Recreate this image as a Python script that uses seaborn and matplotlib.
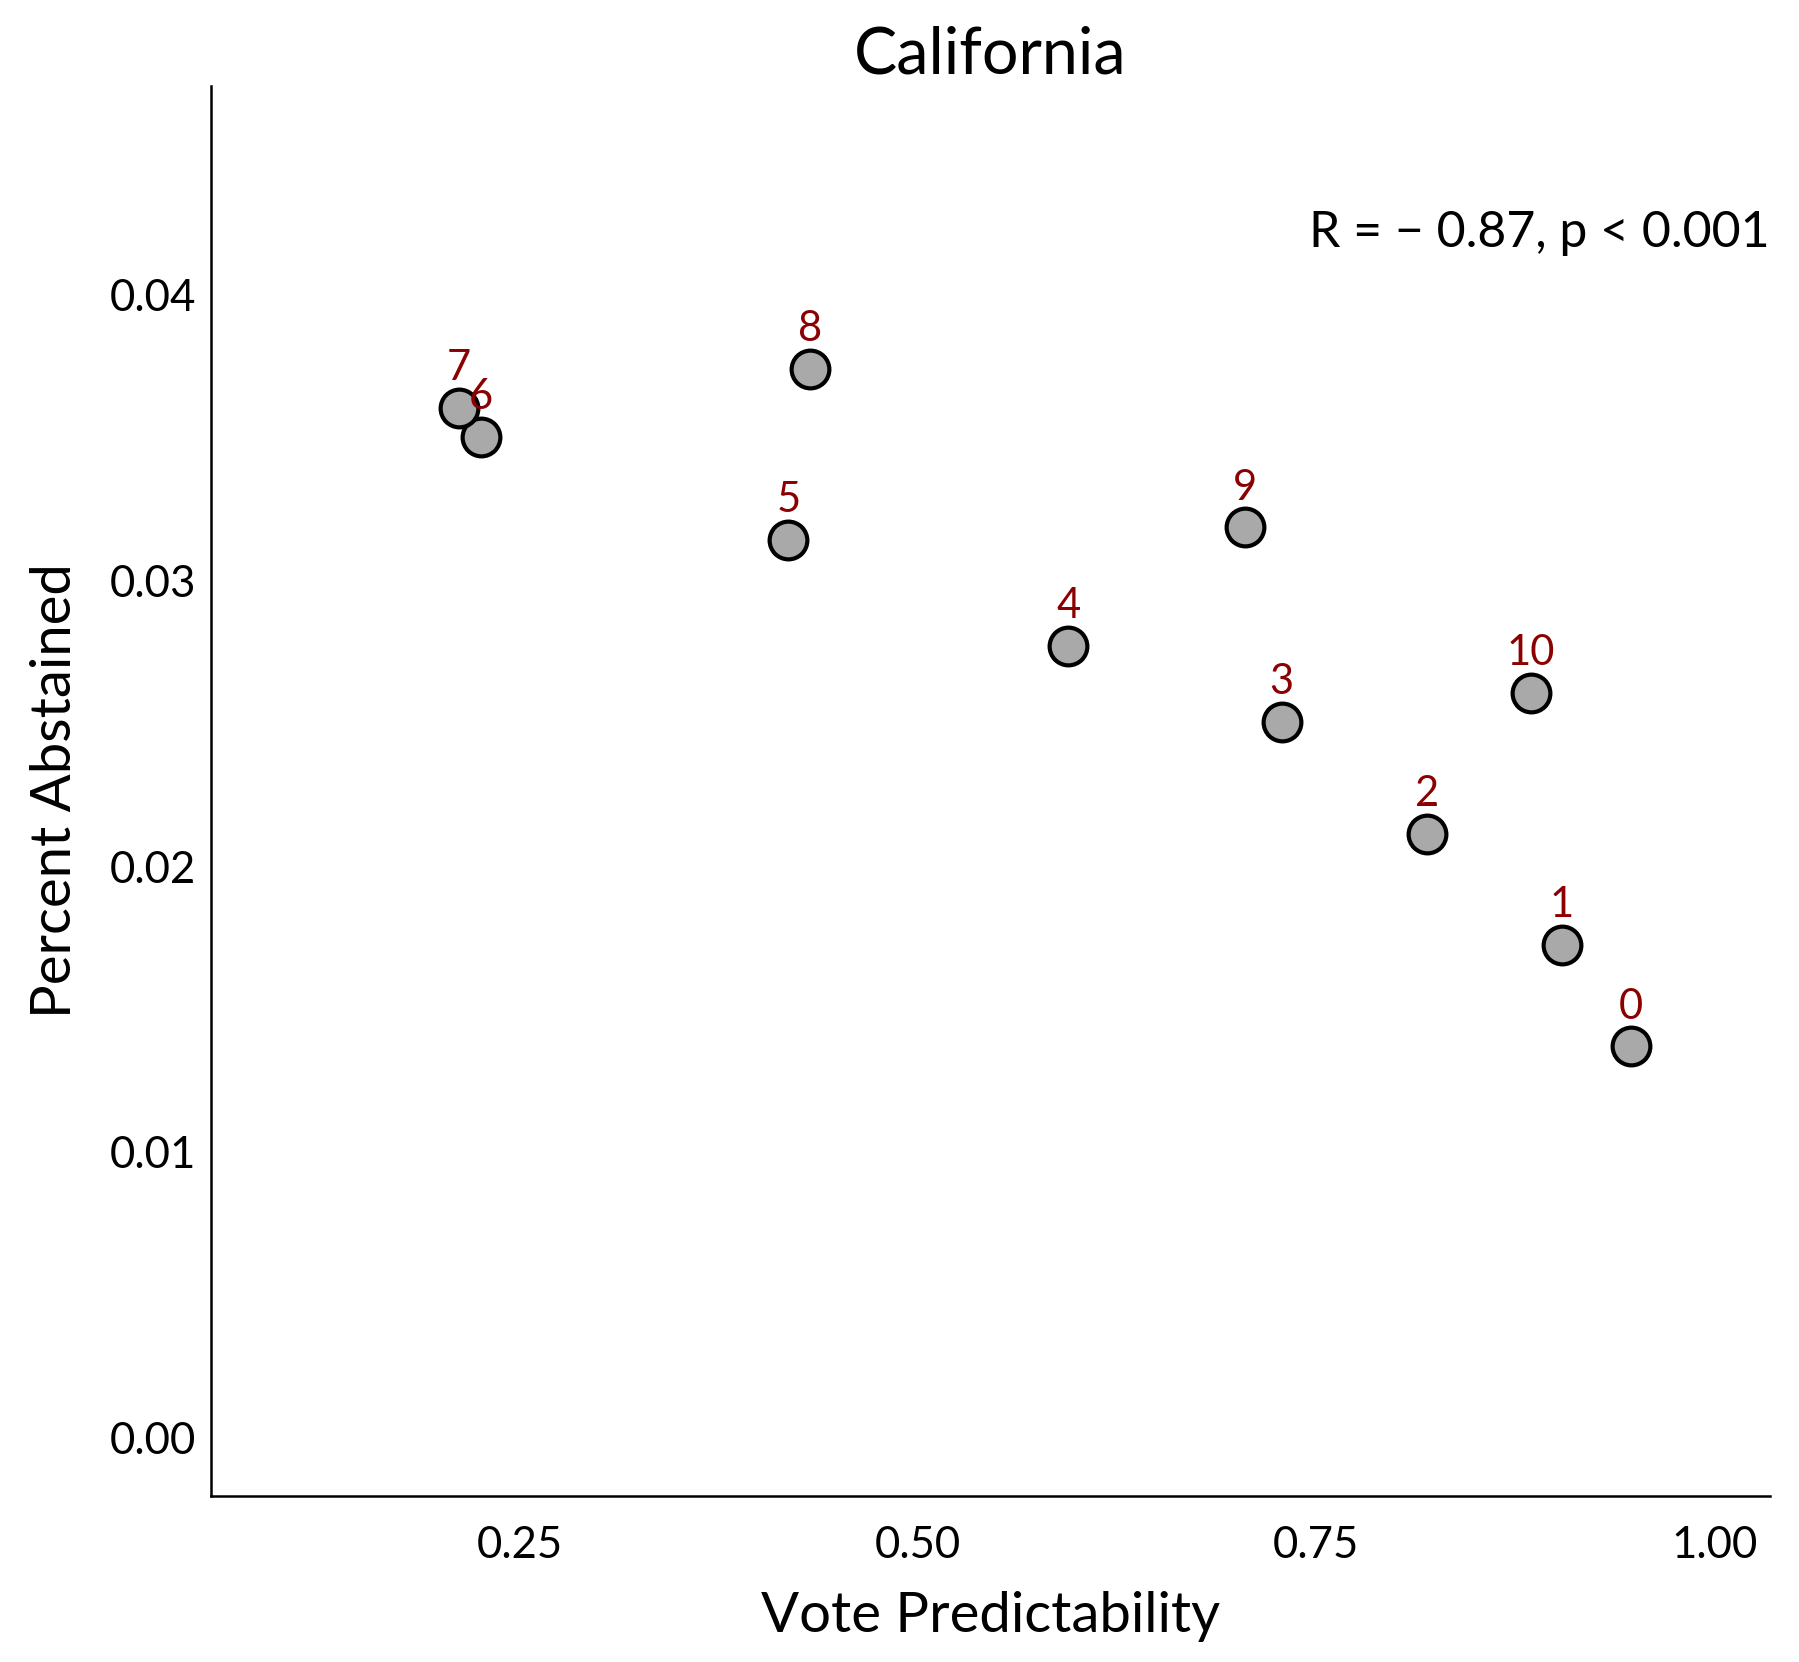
import matplotlib
matplotlib.use("Agg")
import matplotlib.pyplot as plt
import seaborn as sns
import pandas as pd

# Values
district = [0, 1, 2, 3, 4, 5, 6, 7, 8, 9, 10]
vote_predictability = [0.9474, 0.9042, 0.8199, 0.7284, 0.5944, 0.4186,
                       0.2255, 0.2118, 0.4323, 0.7053, 0.8847]
percent_abstained = [0.01369, 0.01723, 0.02112, 0.02506, 0.02771, 0.03141,
                     0.03502, 0.03602, 0.03739, 0.03185, 0.02606]
x_ticks = [0.25, 0.50, 0.75, 1.00]
y_ticks = [0.00, 0.01, 0.02, 0.03, 0.04]
cor_label = "R = \u2212 0.87, p < 0.001"

df = pd.DataFrame({"district": district,
                   "vote_predictability": vote_predictability,
                   "percent_abstained": percent_abstained})

sns.set_theme(style="white")
plt.rcParams["font.family"] = ["Lato", "DejaVu Sans"]
plt.rcParams["text.color"] = "black"
plt.rcParams["axes.labelcolor"] = "black"

fig = plt.figure(figsize=(1799 / 300, 1662 / 300), dpi=300)
ax = fig.add_axes([0.1173, 0.0999, 0.8666, 0.8484])

sns.scatterplot(data=df, x="vote_predictability", y="percent_abstained",
                s=82, color="#a9a9a9", edgecolor="black", linewidth=1.0,
                ax=ax, zorder=3)

for _, row in df.iterrows():
    ax.annotate(str(int(row["district"])),
                (row["vote_predictability"], row["percent_abstained"]),
                xytext=(0, 5), textcoords="offset points",
                ha="center", va="bottom", fontsize=10, color="#8b0000")

ax.text(1.0, 0.896, cor_label, transform=ax.transAxes,
        ha="right", va="center", fontsize=12, color="black")

ax.set_xlim(0.056, 1.035)
ax.set_ylim(-0.00204, 0.0473)
ax.set_xticks(x_ticks)
ax.set_xticklabels(["0.25", "0.50", "0.75", "1.00"])
ax.set_yticks(y_ticks)
ax.set_yticklabels(["0.00", "0.01", "0.02", "0.03", "0.04"])
ax.tick_params(axis="both", length=0, labelsize=10.5, colors="black")
ax.tick_params(axis="x", pad=7)
ax.tick_params(axis="y", pad=3.5)

ax.set_xlabel("Vote Predictability", fontsize=13.5, labelpad=6)
ax.set_ylabel("Percent Abstained", fontsize=13.5, labelpad=7)
ax.set_title("California", fontsize=15.5, pad=3)

sns.despine(ax=ax)
for side in ["left", "bottom"]:
    ax.spines[side].set_color("black")
    ax.spines[side].set_linewidth(0.6)

fig.savefig("out.png", dpi=300)
